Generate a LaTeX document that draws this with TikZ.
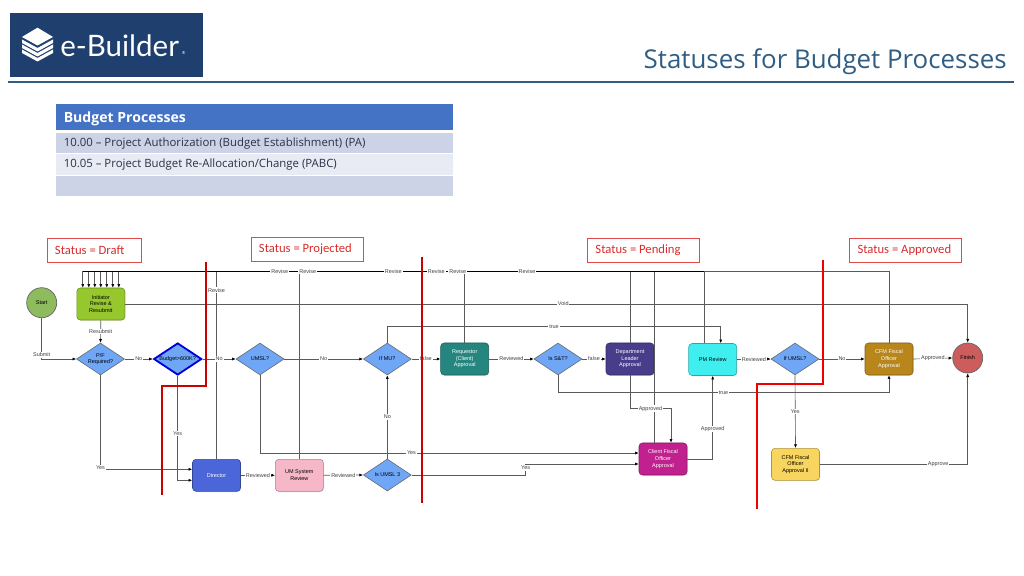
\documentclass[tikz,border=0pt]{standalone}
\usepackage{fontspec}
\setmainfont{Open Sans}
\newfontfamily\statusfont{Carlito}
\newfontfamily\flowfont{Liberation Sans}
\newfontfamily\logofont{Lato}
\usepackage{xcolor}
\usetikzlibrary{shapes.geometric, arrows.meta, calc, shadows}

\definecolor{navy}{HTML}{1F3F6E}
\definecolor{titleblue}{HTML}{2F5D84}
\definecolor{headblue}{HTML}{4472C4}
\definecolor{rowdark}{HTML}{CDD3E6}
\definecolor{rowlight}{HTML}{E8EAF4}
\definecolor{rowtext}{HTML}{2B3145}
\definecolor{linegray}{HTML}{5A5A5A}
\definecolor{statusred}{HTML}{D92B2B}
\definecolor{diamondblue}{HTML}{6FA6F5}
\definecolor{startgreen}{HTML}{8DBB5E}
\definecolor{initgreen}{HTML}{96C82D}
\definecolor{directorblue}{HTML}{4A66D8}
\definecolor{umpink}{HTML}{F6B8C9}
\definecolor{reqteal}{HTML}{25867F}
\definecolor{deptpurple}{HTML}{483D8B}
\definecolor{pmcyan}{HTML}{3FEFF0}
\definecolor{cfmgold}{HTML}{B8861B}
\definecolor{clientmagenta}{HTML}{C0218E}
\definecolor{cfmyellow}{HTML}{F7D55E}
\definecolor{finishred}{HTML}{CD5C5C}

\tikzset{
  flowtext/.style={font=\flowfont\fontsize{3.9}{4.7}\selectfont, align=center},
  task/.style={flowtext, draw=#1!70!black, fill=#1, rectangle, rounded corners=2.5pt, minimum width=1.2cm, minimum height=0.8cm, inner sep=0pt, line width=0.4pt, drop shadow={shadow xshift=0.5pt, shadow yshift=-0.5pt, opacity=0.25}},
  decide/.style={flowtext, draw=black!60, fill=diamondblue, diamond, aspect=1.5, minimum width=1.2cm, minimum height=0.8cm, inner sep=0pt, line width=0.4pt},
  endpoint/.style={flowtext, draw=black!60, fill=#1, circle, minimum size=0.75cm, inner sep=0pt, line width=0.5pt},
  flow/.style={draw=linegray, line width=0.45pt, -{Latex[length=2.6pt,width=2.2pt,black]}},
  plain/.style={draw=linegray, line width=0.45pt},
  lbl/.style={flowtext, fill=white, inner sep=0.6pt, text=black!75},
  statusbox/.style={draw=statusred!85, line width=0.5pt, text=statusred, font=\statusfont\fontsize{9}{11}\selectfont, inner ysep=0pt, inner xsep=0.2cm, minimum height=0.6cm, align=flush left},
  redline/.style={draw=#1, line width=1.4pt},
  tablerow/.style={font=\fontsize{8.1}{10}\selectfont, text=rowtext, anchor=west, inner sep=0pt}
}

\begin{document}
\begin{tikzpicture}[x=0.025cm, y=-0.025cm]
  \useasboundingbox (0,0) rectangle (1024,576);

  % header
  \fill[navy] (10,13) rectangle (203,77);
  \fill[white] (22,37) -- (37.5,27.7) -- (53,37) -- (37.5,45.5) -- cycle;
  \foreach \s in {0,5,10} {
    \fill[white] (22,39.5+\s) -- (37.5,48+\s) -- (53,39.5+\s) -- (53,43+\s) -- (37.5,51.5+\s) -- (22,43+\s) -- cycle;
  }
  \node[text=white, anchor=west, inner sep=0pt, font=\logofont\fontsize{21}{26}\selectfont] (logotext) at (60,46) {e-Builder};
  \node[text=white!75, anchor=west, inner sep=0pt, font=\fontsize{3}{3}\selectfont] (logomark) at (181.5,53) {®};
  \node[text=titleblue, anchor=east, inner sep=0pt, font=\fontsize{18.4}{22}\selectfont] (title) at (1007,62) {Statuses for Budget Processes};
  \fill[titleblue] (8,81) rectangle (1014,83);

  % table
  \fill[headblue] (56,104) rectangle (453,130);
  \fill[rowdark] (56,133.5) rectangle (453,153);
  \fill[rowlight] (56,154) rectangle (453,175);
  \fill[rowdark] (56,176) rectangle (453,196);
  \node[text=white, anchor=west, inner sep=0pt, font=\bfseries\fontsize{10}{12}\selectfont] (tablehead) at (63.5,119) {Budget Processes};
  \node[tablerow] (rowpa) at (63.5,143.5) {10.00 – Project Authorization (Budget Establishment) (PA)};
  \node[tablerow] (rowpabc) at (63.5,165) {10.05 – Project Budget Re-Allocation/Change (PABC)};

  % status boxes
  \node[statusbox, text width=1.95cm] (draft) at (94,250) {\mbox{Status = Draft}};
  \node[statusbox, text width=2.4cm] (projected) at (307,249.3) {\mbox{Status = Projected}};
  \node[statusbox, text width=2.4cm] (pending) at (643.5,250) {\mbox{Status = Pending}};
  \node[statusbox, text width=2.4cm] (approved) at (905.5,250.5) {\mbox{Status = Approved}};

  % flow nodes
  \node[endpoint=startgreen] (start) at (41.7,302.7) {Start};
  \node[task=initgreen] (initiator) at (100.8,304) {Initiator\\Revise \&\\Resubmit};
  \node[decide] (pf) at (100.5,359) {P/F\\Required?};
  \node[decide, draw=blue!85!black, line width=1.3pt] (budget) at (177.7,359) {Budget>600K?};
  \node[decide] (umsl) at (260,359) {UMSL?};
  \node[decide] (ifmu) at (387.3,359) {If MU?};
  \node[task=reqteal, text=white] (requestor) at (464.7,359) {Requestor\\(Client)\\Approval};
  \node[decide] (isst) at (558,359) {Is S\&T?};
  \node[task=deptpurple, text=white] (dept) at (630,359) {Department\\Leader\\Approval};
  \node[task=pmcyan] (pm) at (712.7,359.5) {PM Review};
  \node[decide] (ifumsl) at (795,359) {If UMSL?};
  \node[task=cfmgold, text=white] (cfm) at (889,359) {CFM Fiscal\\Officer\\Approval};
  \node[endpoint=finishred] (finish) at (967.7,358) {Finish};
  \node[task=directorblue, text=white] (director) at (216.5,475.3) {Director};
  \node[task=umpink] (um) at (299.3,475.3) {UM System\\Review};
  \node[decide] (isumsl) at (387.3,475) {Is UMSL 3};
  \node[task=clientmagenta, text=white] (client) at (663,459) {Client Fiscal\\Officer\\Approval};
  \node[task=cfmyellow] (cfmtwo) at (795.5,464.3) {CFM Fiscal\\Officer\\Approval II};

  % revise rail
  \coordinate (railL) at (82.7,271.3);
  \coordinate (railM) at (704,271.3);
  \foreach \x in {-18,-12,-6,0,6,12,18} {
    \draw[flow] ($(initiator.north)+(\x,-16.4)$) -- ($(initiator.north)+(\x,0)$);
  }
  \draw[plain] (director.north) -- node[lbl, pos=0.9] {Revise} (director.north |- railL);
  \draw[plain] (um.north) -- (um.north |- railL);
  \draw[plain] (requestor.north) -- (requestor.north |- railL);
  \draw[plain] (dept.north) -- (dept.north |- railL);
  \draw[plain] ($(client.north)+(-8.7,0)$) -- ($(client.north |- railL)+(-8.7,0)$);
  \draw[plain] ($(pm.north)+(-8.7,0)$) -- (railM);
  \draw[plain] (cfm.north) |- (railM);
  \draw[black, line width=0.8pt] (railL) -- (railM);
  \foreach \x in {279.7,307.7,393.3,436.3,457.7,527} {
    \node[lbl] at (\x,271.3) {Revise};
  }

  % connectors
  \draw[flow] (initiator.east) -| node[lbl, pos=0.26] {Void} (finish.north);
  \draw[flow] (start.south) |- node[lbl, pos=0.45] {Submit} (pf.west);
  \draw[flow] (initiator.south) -- node[lbl] {Resubmit} (pf.north);
  \draw[flow] (pf.east) -- node[lbl] {No} (budget.west);
  \draw[flow] (budget.east) -- node[lbl] {No} (umsl.west);
  \draw[flow] (umsl.east) -- node[lbl] {No} (ifmu.west);
  \draw[flow] (ifmu.east) -- node[lbl] {false} (requestor.west);
  \draw[flow] (requestor.east) -- node[lbl] {Reviewed} (isst.west);
  \draw[flow] (isst.east) -- node[lbl] {false} (dept.west);
  \draw[flow] (pm.east) -- node[lbl] {Reviewed} (ifumsl.west);
  \draw[flow] (ifumsl.east) -- node[lbl] {No} (cfm.west);
  \draw[flow] (cfm.east) -- node[lbl] {Approved} (finish.west);
  \draw[flow] (director.east) -- node[lbl] {Reviewed} (um.west);
  \draw[flow] (um.east) -- node[lbl] {Reviewed} (isumsl.west);
  \draw[flow] (isumsl.north) -- node[lbl] {No} (ifmu.south);
  \draw[flow] (ifumsl.south) -- node[lbl] {Yes} (cfmtwo.north);
  \draw[flow] (pf.south) |- node[lbl, pos=0.49] {Yes} ($(director.west)+(0,-6)$);
  \draw[flow] (budget.south) |- node[lbl, pos=0.276] {Yes} ($(director.west)+(0,5)$);
  \draw[flow] (ifmu.north) |- node[lbl, pos=0.75] {true} ($(pm.north)+(8,-16.5)$) -- ($(pm.north)+(8,0)$);
  \draw[flow] (isst.south) |- node[lbl, pos=0.75] {true} ($(cfm.south)+(0,17)$) -- (cfm.south);
  \draw[flow] (dept.south) |- node[lbl, pos=0.75] {Approved} ($(client.north)+(8,-34)$) -- ($(client.north)+(8,0)$);
  \draw[flow] (umsl.south) |- node[lbl, pos=0.7] {Yes} ($(client.west)+(0,-6)$);
  \draw[flow] (isumsl.east) -- ($(isumsl.east)+(114,0)$) |- node[lbl, pos=0.32] {Yes} ($(client.west)+(0,5)$);
  \draw[flow] (client.east) -| node[lbl, pos=0.68] {Approved} (pm.south);
  \draw[flow] (cfmtwo.east) -| node[lbl, pos=0.4] {Approve} (finish.south);

  % status dividers
  \draw[redline={red!80!black}] (206,262) -- (206,386) -- (162.3,386) -- (162.3,495);
  \draw[redline={red!80!black}] (422,257) -- (422,503);
  \draw[redline={red!95!black}] (822.7,260) -- (822.7,384.3) -- (756.7,384.3) -- (756.7,509);
\end{tikzpicture}
\end{document}
